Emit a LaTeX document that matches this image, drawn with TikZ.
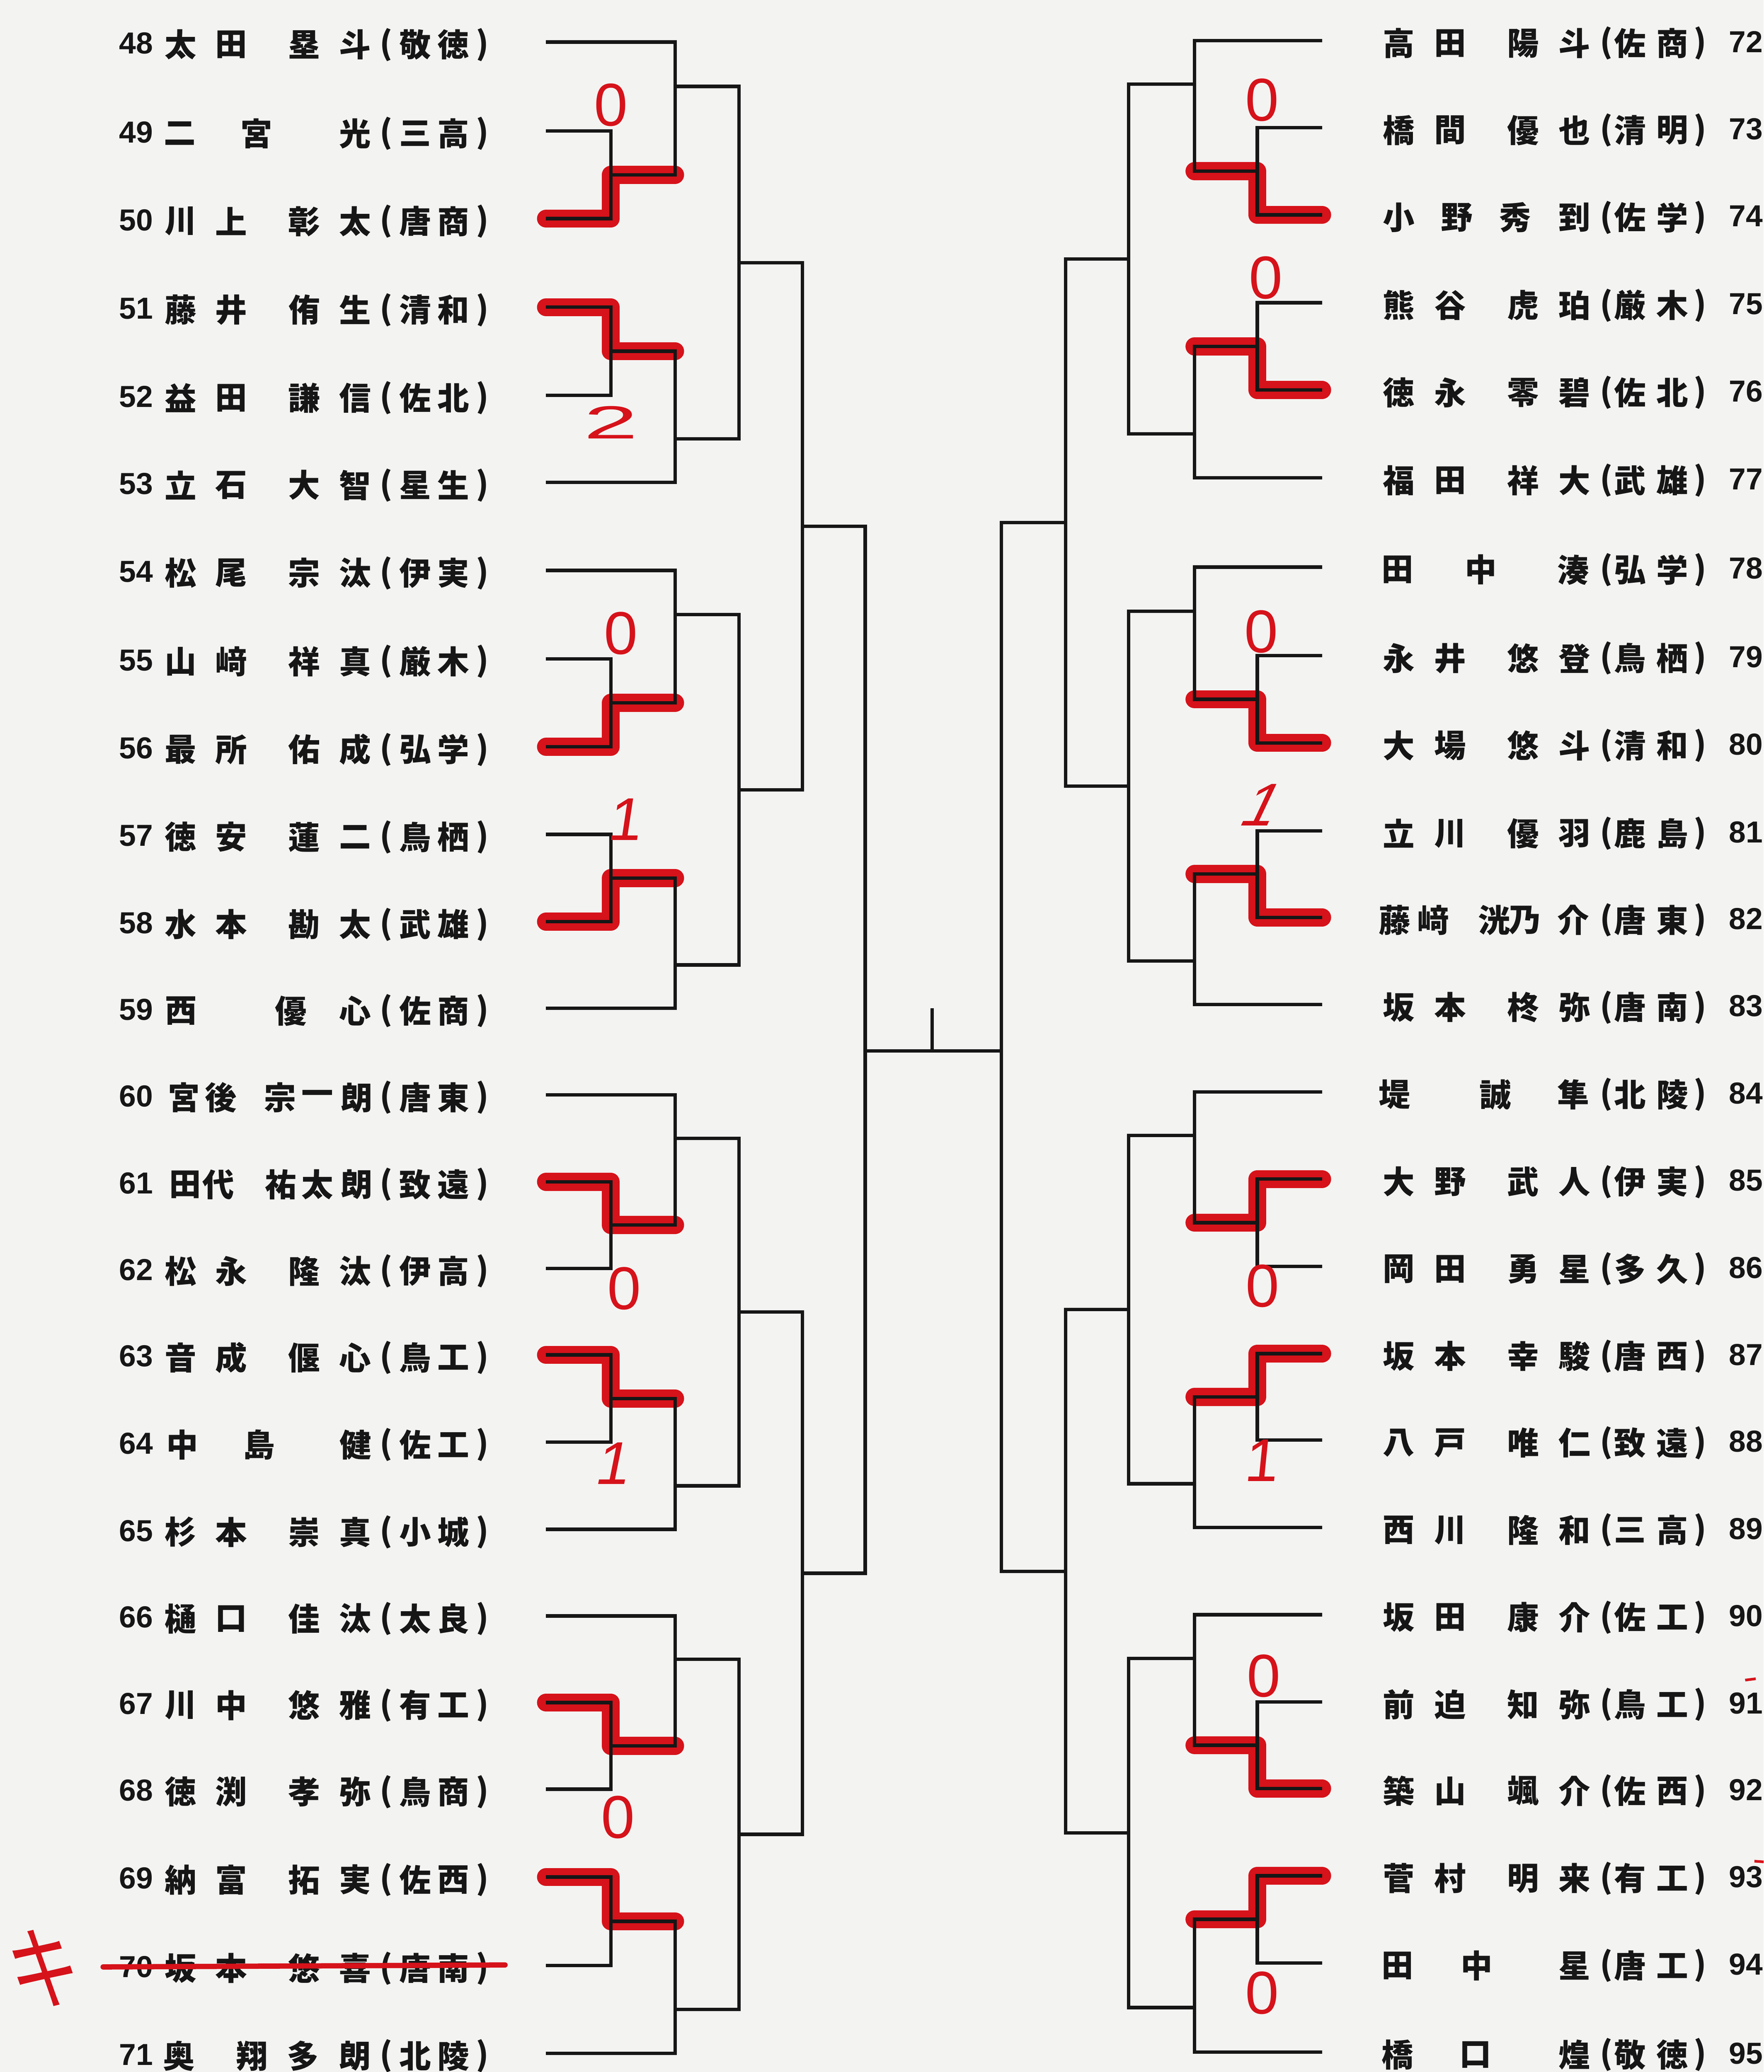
\documentclass[tikz,border=0pt]{standalone}
\usepackage{fontspec}
\newfontfamily\cjk{Noto Sans CJK JP}
\newfontfamily\numf{Liberation Sans}
\definecolor{paper}{RGB}{243,244,242}
\definecolor{inkc}{RGB}{22,22,22}
\definecolor{pen}{RGB}{214,18,26}
\tikzset{
  bl/.style={draw=inkc, line width=0.078cm},
  hl/.style={draw=pen, line width=0.41cm, line cap=round, line join=round},
  nametxt/.style={inner sep=0pt, text=inkc, font={\cjk\bfseries\fontsize{20.5pt}{21pt}\selectfont}},
  numtxt/.style={inner sep=0pt, text=inkc, font={\numf\bfseries\fontsize{19.6pt}{20pt}\selectfont}},
  score/.style={inner sep=0pt, text=pen, font={\numf\fontsize{39pt}{40pt}\selectfont}},
}
\newcommand\Lrow[5]{%
  \node[numtxt, anchor=east] (ln#1) at (116,#2+1) {#1};
  \foreach \pX/\pC [count=\kk] in {#3} {\node[nametxt] (l#1c\kk) at (\pX,#2+2) {\pC};}
  \node[nametxt] (l#1po) at (292,#2+2) {(};
  \node[nametxt] (l#1sa) at (314,#2+2) {#4};
  \node[nametxt] (l#1sb) at (343,#2+2) {#5};
  \node[nametxt] (l#1pc) at (365,#2+2) {)};
}
\newcommand\Rrow[5]{%
  \foreach \pX/\pC [count=\kk] in {#3} {\node[nametxt] (r#1c\kk) at (\pX,#2+2) {\pC};}
  \node[nametxt] (r#1po) at (1215,#2+2) {(};
  \node[nametxt] (r#1sa) at (1233,#2+2) {#4};
  \node[nametxt] (r#1sb) at (1265,#2+2) {#5};
  \node[nametxt] (r#1pc) at (1286,#2+2) {)};
  \node[numtxt, anchor=west] (rn#1) at (1307.5,#2+1) {#1};
}
\begin{document}
\begin{tikzpicture}[x=0.03cm,y=-0.03cm]
\fill[paper] (0,0) rectangle (1334,1567.5);
\useasboundingbox (0,0) rectangle (1334,1567.5);

% ---------- player line ends ----------
\foreach \n/\yy in {48/31.8,49/99,50/165.4,51/232.4,52/299,53/365,54/431.5,55/498.5,56/565,57/631.2,58/697.3,59/762.7,60/828.3,61/894,62/959.5,63/1025,64/1091,65/1157,66/1222.5,67/1288,68/1353.5,69/1420,70/1487,71/1553.3}
  {\coordinate (L\n) at (413,\yy);}
\foreach \n/\yy in {72/30.7,73/96.5,74/162.5,75/229,76/295,77/361.5,78/429,79/496,80/562,81/628.5,82/694,83/760,84/826,85/892,86/958,87/1024,88/1089.5,89/1155.5,90/1221.5,91/1287.5,92/1353,93/1419,94/1485,95/1552.5}
  {\coordinate (R\n) at (1000,\yy);}

% ---------- left match points ----------
\coordinate (lpA) at (462,132.2);  \coordinate (lpB) at (462,265.7);
\coordinate (lpC) at (462,531.75); \coordinate (lpD) at (462,664.25);
\coordinate (lpE) at (462,926.75); \coordinate (lpF) at (462,1058);
\coordinate (lpG) at (462,1320.75);\coordinate (lpH) at (462,1453.5);
\coordinate (lgA) at (510.6,65.4);  \coordinate (lgB) at (510.6,332);
\coordinate (lgC) at (510.6,465);   \coordinate (lgD) at (510.6,730);
\coordinate (lgE) at (510.6,861.15);\coordinate (lgF) at (510.6,1124);
\coordinate (lgG) at (510.6,1255.25);\coordinate (lgH) at (510.6,1520.15);
\coordinate (ltA) at (559,198.7); \coordinate (ltB) at (559,597.5);
\coordinate (ltC) at (559,992.6); \coordinate (ltD) at (559,1387.7);
\coordinate (lqA) at (607,398.1); \coordinate (lqB) at (607,1190.15);
\coordinate (ls) at (654.4,795);
% ---------- right match points ----------
\coordinate (rpA) at (951,129.5);  \coordinate (rpB) at (951,262);
\coordinate (rpC) at (951,529);    \coordinate (rpD) at (951,661.25);
\coordinate (rpE) at (951,925);    \coordinate (rpF) at (951,1056.75);
\coordinate (rpG) at (951,1320.25);\coordinate (rpH) at (951,1452);
\coordinate (rgA) at (903.5,63.6);  \coordinate (rgB) at (903.5,328.25);
\coordinate (rgC) at (903.5,462.5); \coordinate (rgD) at (903.5,727);
\coordinate (rgE) at (903.5,859);   \coordinate (rgF) at (903.5,1122.5);
\coordinate (rgG) at (903.5,1254.5);\coordinate (rgH) at (903.5,1518.75);
\coordinate (rtA) at (853.7,195.9); \coordinate (rtB) at (853.7,594.75);
\coordinate (rtC) at (853.7,990.75);\coordinate (rtD) at (853.7,1386.6);
\coordinate (rqA) at (806,395.3);  \coordinate (rqB) at (806,1188.7);
\coordinate (rs) at (757.4,795);
\coordinate (cT) at (705,762.7); \coordinate (cB) at (705,795);

% ---------- red highlighter ----------
\draw[hl] (L50) -| (lpA) -- (lpA -| lgA);
\draw[hl] (L51) -| (lpB) -- (lpB -| lgB);
\draw[hl] (L56) -| (lpC) -- (lpC -| lgC);
\draw[hl] (L58) -| (lpD) -- (lpD -| lgD);
\draw[hl] (L61) -| (lpE) -- (lpE -| lgE);
\draw[hl] (L63) -| (lpF) -- (lpF -| lgF);
\draw[hl] (L67) -| (lpG) -- (lpG -| lgG);
\draw[hl] (L69) -| (lpH) -- (lpH -| lgH);
\draw[hl] (R74) -| (rpA) -- (rpA -| rgA);
\draw[hl] (R76) -| (rpB) -- (rpB -| rgB);
\draw[hl] (R80) -| (rpC) -- (rpC -| rgC);
\draw[hl] (R82) -| (rpD) -- (rpD -| rgD);
\draw[hl] (R85) -| (rpE) -- (rpE -| rgE);
\draw[hl] (R87) -| (rpF) -- (rpF -| rgF);
\draw[hl] (R92) -| (rpG) -- (rpG -| rgG);
\draw[hl] (R93) -| (rpH) -- (rpH -| rgH);

% ---------- black bracket (left) ----------
\draw[bl] (L48) -| (lgA); \draw[bl] (L49) -| (lpA); \draw[bl] (L50) -| (lpA); \draw[bl] (lpA) -| (lgA);
\draw[bl] (L51) -| (lpB); \draw[bl] (L52) -| (lpB); \draw[bl] (lpB) -| (lgB); \draw[bl] (L53) -| (lgB);
\draw[bl] (L54) -| (lgC); \draw[bl] (L55) -| (lpC); \draw[bl] (L56) -| (lpC); \draw[bl] (lpC) -| (lgC);
\draw[bl] (L57) -| (lpD); \draw[bl] (L58) -| (lpD); \draw[bl] (lpD) -| (lgD); \draw[bl] (L59) -| (lgD);
\draw[bl] (L60) -| (lgE); \draw[bl] (L61) -| (lpE); \draw[bl] (L62) -| (lpE); \draw[bl] (lpE) -| (lgE);
\draw[bl] (L63) -| (lpF); \draw[bl] (L64) -| (lpF); \draw[bl] (lpF) -| (lgF); \draw[bl] (L65) -| (lgF);
\draw[bl] (L66) -| (lgG); \draw[bl] (L67) -| (lpG); \draw[bl] (L68) -| (lpG); \draw[bl] (lpG) -| (lgG);
\draw[bl] (L69) -| (lpH); \draw[bl] (L70) -| (lpH); \draw[bl] (lpH) -| (lgH); \draw[bl] (L71) -| (lgH);
\draw[bl] (lgA) -| (ltA); \draw[bl] (lgB) -| (ltA); \draw[bl] (lgC) -| (ltB); \draw[bl] (lgD) -| (ltB);
\draw[bl] (lgE) -| (ltC); \draw[bl] (lgF) -| (ltC); \draw[bl] (lgG) -| (ltD); \draw[bl] (lgH) -| (ltD);
\draw[bl] (ltA) -| (lqA); \draw[bl] (ltB) -| (lqA); \draw[bl] (ltC) -| (lqB); \draw[bl] (ltD) -| (lqB);
\draw[bl] (lqA) -| (ls); \draw[bl] (lqB) -| (ls);
% ---------- black bracket (right) ----------
\draw[bl] (R72) -| (rgA); \draw[bl] (R73) -| (rpA); \draw[bl] (R74) -| (rpA); \draw[bl] (rpA) -| (rgA);
\draw[bl] (R75) -| (rpB); \draw[bl] (R76) -| (rpB); \draw[bl] (rpB) -| (rgB); \draw[bl] (R77) -| (rgB);
\draw[bl] (R78) -| (rgC); \draw[bl] (R79) -| (rpC); \draw[bl] (R80) -| (rpC); \draw[bl] (rpC) -| (rgC);
\draw[bl] (R81) -| (rpD); \draw[bl] (R82) -| (rpD); \draw[bl] (rpD) -| (rgD); \draw[bl] (R83) -| (rgD);
\draw[bl] (R84) -| (rgE); \draw[bl] (R85) -| (rpE); \draw[bl] (R86) -| (rpE); \draw[bl] (rpE) -| (rgE);
\draw[bl] (R87) -| (rpF); \draw[bl] (R88) -| (rpF); \draw[bl] (rpF) -| (rgF); \draw[bl] (R89) -| (rgF);
\draw[bl] (R90) -| (rgG); \draw[bl] (R91) -| (rpG); \draw[bl] (R92) -| (rpG); \draw[bl] (rpG) -| (rgG);
\draw[bl] (R93) -| (rpH); \draw[bl] (R94) -| (rpH); \draw[bl] (rpH) -| (rgH); \draw[bl] (R95) -| (rgH);
\draw[bl] (rgA) -| (rtA); \draw[bl] (rgB) -| (rtA); \draw[bl] (rgC) -| (rtB); \draw[bl] (rgD) -| (rtB);
\draw[bl] (rgE) -| (rtC); \draw[bl] (rgF) -| (rtC); \draw[bl] (rgG) -| (rtD); \draw[bl] (rgH) -| (rtD);
\draw[bl] (rtA) -| (rqA); \draw[bl] (rtB) -| (rqA); \draw[bl] (rtC) -| (rqB); \draw[bl] (rtD) -| (rqB);
\draw[bl] (rqA) -| (rs); \draw[bl] (rqB) -| (rs);
% final
\draw[bl] (ls) -- (rs);
\draw[bl] (cT) -- (cB);

% ---------- left names ----------
\Lrow{48}{31.8}{136.5/太,175/田,230/塁,268.5/斗}{敬}{徳}
\Lrow{49}{99}{136/二,194/宮,268.5/光}{三}{高}
\Lrow{50}{165.4}{136.5/川,175/上,230/彰,268.5/太}{唐}{商}
\Lrow{51}{232.4}{136.5/藤,175/井,230/侑,268.5/生}{清}{和}
\Lrow{52}{299}{136.5/益,175/田,230/謙,268.5/信}{佐}{北}
\Lrow{53}{365}{136.5/立,175/石,230/大,268.5/智}{星}{生}
\Lrow{54}{431.5}{136.5/松,175/尾,230/宗,268.5/汰}{伊}{実}
\Lrow{55}{498.5}{136.5/山,175/﨑,230/祥,268.5/真}{厳}{木}
\Lrow{56}{565}{136.5/最,175/所,230/佑,268.5/成}{弘}{学}
\Lrow{57}{631.2}{136.5/徳,175/安,230/蓮,268.5/二}{鳥}{栖}
\Lrow{58}{697.3}{136.5/水,175/本,230/勘,268.5/太}{武}{雄}
\Lrow{59}{762.7}{137/西,220/優,268.5/心}{佐}{商}
\Lrow{60}{828.3}{139/宮,167/後,212/宗,240/一,270/朗}{唐}{東}
\Lrow{61}{894}{140/田,165/代,212.5/祐,240/太,270/朗}{致}{遠}
\Lrow{62}{959.5}{136.5/松,175/永,230/隆,268.5/汰}{伊}{高}
\Lrow{63}{1025}{136.5/音,175/成,230/偃,268.5/心}{鳥}{工}
\Lrow{64}{1091}{138/中,196/島,269/健}{佐}{工}
\Lrow{65}{1157}{136.5/杉,175/本,230/崇,268.5/真}{小}{城}
\Lrow{66}{1222.5}{136.5/樋,175/口,230/佳,268.5/汰}{太}{良}
\Lrow{67}{1288}{136.5/川,175/中,230/悠,268.5/雅}{有}{工}
\Lrow{68}{1353.5}{136.5/徳,175/渕,230/孝,268.5/弥}{鳥}{商}
\Lrow{69}{1420}{136.5/納,175/富,230/拓,268.5/実}{佐}{西}
\Lrow{70}{1487}{136.5/坂,175/本,230/悠,268.5/喜}{唐}{南}
\Lrow{71}{1553.3}{135.5/奥,190.7/翔,229/多,268.5/朗}{北}{陵}

% ---------- right names ----------
\Rrow{72}{30.7}{1058/高,1097/田,1152/陽,1191/斗}{佐}{商}
\Rrow{73}{96.5}{1058/橋,1097/間,1152/優,1191/也}{清}{明}
\Rrow{74}{162.5}{1058/小,1102/野,1146/秀,1191/到}{佐}{学}
\Rrow{75}{229}{1058/熊,1097/谷,1152/虎,1191/珀}{厳}{木}
\Rrow{76}{295}{1058/徳,1097/永,1152/零,1191/碧}{佐}{北}
\Rrow{77}{361.5}{1058/福,1097/田,1152/祥,1191/大}{武}{雄}
\Rrow{78}{429}{1057/田,1120/中,1190/湊}{弘}{学}
\Rrow{79}{496}{1058/永,1097/井,1152/悠,1191/登}{鳥}{栖}
\Rrow{80}{562}{1058/大,1097/場,1152/悠,1191/斗}{清}{和}
\Rrow{81}{628.5}{1058/立,1097/川,1152/優,1191/羽}{鹿}{島}
\Rrow{82}{694}{1055/藤,1084/﨑,1130/洸,1153/乃,1190/介}{唐}{東}
\Rrow{83}{760}{1058/坂,1097/本,1152/柊,1191/弥}{唐}{南}
\Rrow{84}{826}{1055/堤,1131/誠,1190/隼}{北}{陵}
\Rrow{85}{892}{1058/大,1097/野,1152/武,1191/人}{伊}{実}
\Rrow{86}{958}{1058/岡,1097/田,1152/勇,1191/星}{多}{久}
\Rrow{87}{1024}{1058/坂,1097/本,1152/幸,1191/駿}{唐}{西}
\Rrow{88}{1089.5}{1058/八,1097/戸,1152/唯,1191/仁}{致}{遠}
\Rrow{89}{1155.5}{1058/西,1097/川,1152/隆,1191/和}{三}{高}
\Rrow{90}{1221.5}{1058/坂,1097/田,1152/康,1191/介}{佐}{工}
\Rrow{91}{1287.5}{1058/前,1097/迫,1152/知,1191/弥}{鳥}{工}
\Rrow{92}{1353}{1058/築,1097/山,1152/颯,1191/介}{佐}{西}
\Rrow{93}{1419}{1058/菅,1097/村,1152/明,1191/来}{有}{工}
\Rrow{94}{1485}{1057/田,1117/中,1191/星}{唐}{工}
\Rrow{95}{1552.5}{1057/橋,1116/口,1191/煌}{敬}{徳}

% ---------- handwritten scores ----------
\node[score] (s49) at (462,79.5) {0};
\node[score, xscale=2.1, font={\numf\fontsize{30pt}{31pt}\selectfont}] (s52) at (462,319.5) {2};
\node[score] (s55) at (469.5,479) {0};
\node[score, xslant=0.15] (s57) at (474,620) {1};
\node[score] (s62) at (472,974.7) {0};
\node[score, xslant=0.2] (s64) at (465,1107) {1};
\node[score] (s68) at (467.5,1374.7) {0};
\node[score] (s73) at (954.5,75.6) {0};
\node[score] (s75) at (957.5,210) {0};
\node[score] (s79) at (954,478) {0};
\node[score, xslant=0.47] (s81) at (955.5,609) {1};
\node[score] (s86) at (955,973) {0};
\node[score, xslant=0.1] (s88) at (955,1105) {1};
\node[score] (s91) at (956,1268) {0};
\node[score] (s94) at (954.5,1507.7) {0};

% ---------- withdrawal of 70 ----------
\coordinate (stA) at (78,1488);
\coordinate (stB) at (382,1486.5);
\draw[pen, line width=0.12cm, line cap=round] (stA) -- (stB);
\node[inner sep=0pt, text=pen, font={\cjk\fontsize{58.9pt}{60pt}\selectfont}, xscale=0.78, xslant=-0.25] (ki) at (33,1489) {キ};
% small red ticks
\draw[pen, line width=0.06cm] (1320,1271) -- (1328,1270);
\draw[pen, line width=0.06cm] (1327,1408) -- (1334,1408.5);
\end{tikzpicture}
\end{document}
